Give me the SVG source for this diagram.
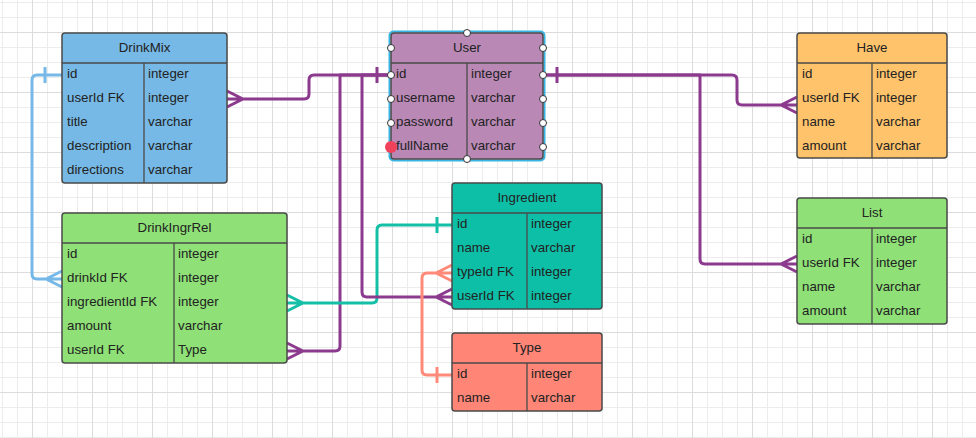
<svg xmlns="http://www.w3.org/2000/svg" width="976" height="438" viewBox="0 0 976 438">
<style>
.tb{stroke:#4a4a4a;stroke-width:1.5}
.ln{stroke:#4a4a4a;stroke-width:1.3}
text{font-family:"Liberation Sans",Arial,sans-serif;font-size:13.3px;fill:#222}
.hd{text-anchor:middle}
.c{fill:none;stroke-width:3;stroke-linejoin:round}
.pu{stroke:#8c3a8e}
.bl{stroke:#76b9e8}
.te{stroke:#13bfa6}
.sa{stroke:#ff8a7a}
.pt{fill:#fff;stroke:#333;stroke-width:1}
</style>
<defs>
<pattern id="grid" x="2" y="2" width="60" height="60" patternUnits="userSpaceOnUse">
<path d="M0.5 0V60M15.5 0V60M45.5 0V60M0 0.5H60M0 15.5H60M0 45.5H60" stroke="#ececec" stroke-width="1" fill="none"/>
<path d="M30.5 0V60M0 30.5H60" stroke="#dcdcdc" stroke-width="1" fill="none"/>
</pattern>
</defs>
<rect width="976" height="438" fill="#fff"/>
<rect width="976" height="438" fill="url(#grid)"/>

<g id="connectors">
<path class="c bl" d="M62 75H37Q32 75 32 80V274Q32 279 37 279H62M45 67V83M46 279L62 271M46 279L62 287"/>
<path class="c pu" d="M227 99H304Q309 99 309 94V80Q309 75 314 75H391M377 67V83M243 99L227 91M243 99L227 107"/>
<path class="c pu" d="M391 75H340V346Q340 351 335 351H287M303 351L287 343M303 351L287 359"/>
<path class="c te" d="M452 225H382Q377 225 377 230V298Q377 303 372 303H287M437 217V233M303 303L287 295M303 303L287 311"/>
<path class="c pu" d="M391 75H362V292Q362 297 367 297H452M436 297L452 289M436 297L452 305"/>
<path class="c sa" d="M452 375H427Q422 375 422 370V278Q422 273 427 273H452M437 367V383M436 273L452 265M436 273L452 281"/>
<path class="c pu" d="M543 75H732Q737 75 737 80V100Q737 105 742 105H797M557 67V83M781 105L797 97M781 105L797 113"/>
<path class="c pu" d="M543 75H700V259Q700 264 705 264H797M781 264L797 256M781 264L797 272"/>
</g>

<g id="DrinkMix">
<rect class="tb" x="62" y="33" width="165" height="150" rx="3" fill="#76b9e6"/>
<path class="ln" d="M62 63H227M144 63V183"/>
<text class="hd" x="144.5" y="52">DrinkMix</text>
<text x="67" y="78">id</text><text x="148" y="78">integer</text>
<text x="67" y="102">userId FK</text><text x="148" y="102">integer</text>
<text x="67" y="126">title</text><text x="148" y="126">varchar</text>
<text x="67" y="150">description</text><text x="148" y="150">varchar</text>
<text x="67" y="174">directions</text><text x="148" y="174">varchar</text>
</g>

<g id="User">
<rect x="389.5" y="31.5" width="155" height="129" rx="4" fill="none" stroke="#38b6e3" stroke-width="2"/>
<rect class="tb" x="391" y="33" width="152" height="126" rx="3" fill="#b988b5"/>
<path class="ln" d="M391 63H543M467 63V159"/>
<text class="hd" x="467" y="52">User</text>
<text x="396" y="78">id</text><text x="471" y="78">integer</text>
<text x="396" y="102">username</text><text x="471" y="102">varchar</text>
<text x="396" y="126">password</text><text x="471" y="126">varchar</text>
<text x="396" y="150">fullName</text><text x="471" y="150">varchar</text>
<circle class="pt" cx="467" cy="33" r="3.5"/>
<circle class="pt" cx="467" cy="159" r="3.5"/>
<circle class="pt" cx="391" cy="48" r="3.5"/>
<circle class="pt" cx="391" cy="75" r="3.5"/>
<circle class="pt" cx="391" cy="99" r="3.5"/>
<circle class="pt" cx="391" cy="123" r="3.5"/>
<circle class="pt" cx="543" cy="48" r="3.5"/>
<circle class="pt" cx="543" cy="75" r="3.5"/>
<circle class="pt" cx="543" cy="99" r="3.5"/>
<circle class="pt" cx="543" cy="123" r="3.5"/>
<circle class="pt" cx="543" cy="147" r="3.5"/>
<circle cx="391" cy="147" r="6" fill="#f0425a"/>
</g>

<g id="Have">
<rect class="tb" x="797" y="33" width="150" height="125" rx="3" fill="#ffc36b"/>
<path class="ln" d="M797 63H947M872 63V158"/>
<text class="hd" x="872" y="52">Have</text>
<text x="802" y="78">id</text><text x="876" y="78">integer</text>
<text x="802" y="102">userId FK</text><text x="876" y="102">integer</text>
<text x="802" y="126">name</text><text x="876" y="126">varchar</text>
<text x="802" y="150">amount</text><text x="876" y="150">varchar</text>
</g>

<g id="List">
<rect class="tb" x="797" y="198" width="150" height="126" rx="3" fill="#8ee077"/>
<path class="ln" d="M797 228H947M872 228V324"/>
<text class="hd" x="872" y="217">List</text>
<text x="802" y="243">id</text><text x="876" y="243">integer</text>
<text x="802" y="267">userId FK</text><text x="876" y="267">integer</text>
<text x="802" y="291">name</text><text x="876" y="291">varchar</text>
<text x="802" y="315">amount</text><text x="876" y="315">varchar</text>
</g>

<g id="DrinkIngrRel">
<rect class="tb" x="62" y="213" width="225" height="150" rx="3" fill="#8ee077"/>
<path class="ln" d="M62 243H287M174 243V363"/>
<text class="hd" x="174.5" y="232">DrinkIngrRel</text>
<text x="67" y="258">id</text><text x="178" y="258">integer</text>
<text x="67" y="282">drinkId FK</text><text x="178" y="282">integer</text>
<text x="67" y="306">ingredientId FK</text><text x="178" y="306">integer</text>
<text x="67" y="330">amount</text><text x="178" y="330">varchar</text>
<text x="67" y="354">userId FK</text><text x="178" y="354">Type</text>
</g>

<g id="Ingredient">
<rect class="tb" x="452" y="183" width="150" height="126" rx="3" fill="#0ebfa8"/>
<path class="ln" d="M452 213H602M527 213V309"/>
<text class="hd" x="527" y="202">Ingredient</text>
<text x="457" y="228">id</text><text x="531" y="228">integer</text>
<text x="457" y="252">name</text><text x="531" y="252">varchar</text>
<text x="457" y="276">typeId FK</text><text x="531" y="276">integer</text>
<text x="457" y="300">userId FK</text><text x="531" y="300">integer</text>
</g>

<g id="Type">
<rect class="tb" x="452" y="333" width="150" height="78" rx="3" fill="#ff8677"/>
<path class="ln" d="M452 363H602M527 363V411"/>
<text class="hd" x="527" y="352">Type</text>
<text x="457" y="378">id</text><text x="531" y="378">integer</text>
<text x="457" y="402">name</text><text x="531" y="402">varchar</text>
</g>
</svg>
